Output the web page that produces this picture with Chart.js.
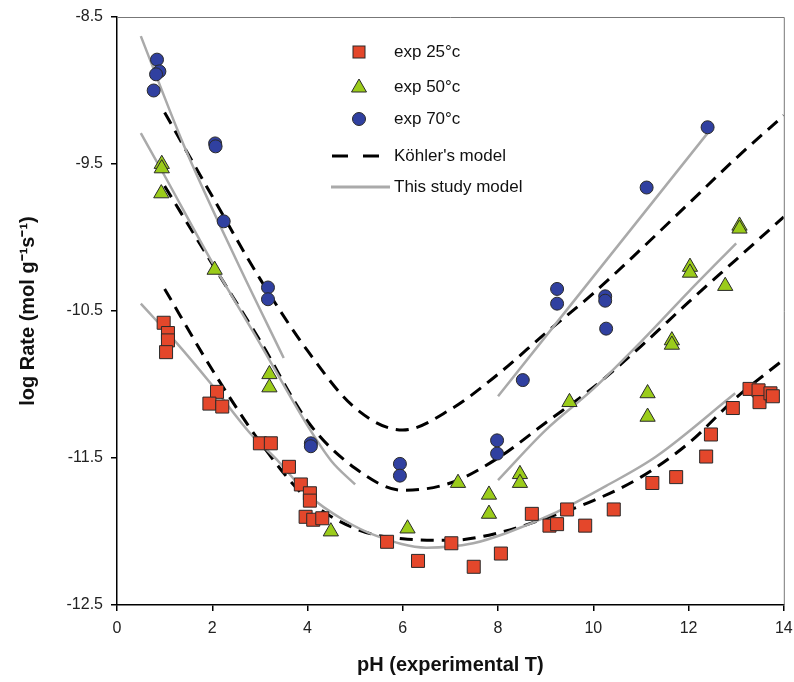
<!DOCTYPE html>
<html lang="en">
<head>
  <meta charset="UTF-8" />
  <title>log Rate vs pH</title>
  <script src="https://cdn.jsdelivr.net/npm/chart.js"></script>
  <style>
    body { margin: 0; background: #fff; }
    .wrap { width: 794px; height: 682px; }
  </style>
</head>
<body>
  <div class="wrap"><canvas id="rateChart" width="794" height="682"></canvas></div>

  <script>
    // tick labels
    const xTicks = [0, 2, 4, 6, 8, 10, 12, 14];
    const yTicks = [-12.5, -11.5, -10.5, -9.5, -8.5];

    // experimental points
    const ph25 = [0.98, 1.07, 1.07, 1.03, 2.10, 1.94, 2.21, 3.00, 3.23, 3.61, 3.86, 4.05, 4.05, 3.96, 4.12, 4.31,
                  5.67, 6.32, 7.02, 7.49, 8.06, 8.71, 9.08, 9.24, 9.45, 9.83, 10.43, 11.24, 11.74, 12.37, 12.47,
                  12.93, 13.28, 13.47, 13.49, 13.72, 13.77];
    const rate25 = [-10.58, -10.65, -10.70, -10.78, -11.05, -11.13, -11.15, -11.40, -11.40, -11.56, -11.68, -11.74, -11.79, -11.90, -11.92, -11.91,
                    -12.07, -12.20, -12.08, -12.24, -12.15, -11.88, -11.96, -11.95, -11.85, -11.96, -11.85, -11.67, -11.63, -11.49, -11.34,
                    -11.16, -11.03, -11.04, -11.12, -11.06, -11.08];

    const ph50 = [0.94, 0.94, 0.93, 2.05, 3.20, 3.20, 4.49, 6.10, 7.16, 7.81, 7.81, 8.46, 8.46, 9.50, 11.14, 11.14,
                  11.65, 11.65, 12.03, 12.03, 12.77, 13.07, 13.07];
    const rate50 = [-9.50, -9.53, -9.70, -10.22, -10.93, -11.02, -12.00, -11.98, -11.67, -11.75, -11.88, -11.61, -11.67, -11.12, -11.06, -11.22,
                    -10.70, -10.73, -10.20, -10.24, -10.33, -9.92, -9.94];

    const ph70 = [0.84, 0.89, 0.82, 0.77, 2.06, 2.07, 2.24, 3.17, 3.17, 4.07, 4.07, 5.94, 5.94, 7.98, 7.98, 8.52,
                  9.24, 9.24, 10.25, 10.25, 10.27, 11.12, 12.40];
    const rate70 = [-8.79, -8.87, -8.89, -9.00, -9.36, -9.38, -9.89, -10.34, -10.42, -11.40, -11.42, -11.54, -11.62, -11.38, -11.47, -10.97,
                    -10.35, -10.45, -10.40, -10.43, -10.62, -9.66, -9.25];

    // Köhler's model curves
    const kohlerPh = [1, 2, 3, 4, 5, 6, 7, 8, 9, 10, 11, 12, 13, 14];
    const kohler25 = [-10.35, -10.90, -11.39, -11.78, -11.98, -12.05, -12.06, -12.01, -11.91, -11.79, -11.63, -11.40, -11.09, -10.83];
    const kohler50 = [-9.65, -10.18, -10.70, -11.25, -11.57, -11.72, -11.67, -11.50, -11.26, -11.02, -10.74, -10.44, -10.15, -9.86];
    const kohler70 = [-9.15, -9.72, -10.28, -10.77, -11.16, -11.31, -11.17, -10.93, -10.65, -10.38, -10.08, -9.77, -9.46, -9.17];

    // this study model (split into acid and alkaline branches)
    const study25Ph = [0.5, 1.26, 1.96, 2.79, 3.35, 4.05, 4.75, 5.45, 6.5, 7.48, 8.18, 9.22, 10.27, 11.32, 12.98];
    const study25 = [-10.45, -10.72, -10.99, -11.33, -11.51, -11.76, -11.92, -12.03, -12.11, -12.08, -12.01, -11.87, -11.69, -11.49, -11.06];

    const study50aPh = [0.5, 1, 2, 3, 4, 4.5, 5];
    const study50a = [-9.29, -9.58, -10.17, -10.72, -11.28, -11.52, -11.68];
    const study50bPh = [8, 9, 10, 11, 12, 13];
    const study50b = [-11.65, -11.31, -11.03, -10.71, -10.37, -10.04];

    const study70aPh = [0.5, 1.4, 2.5, 3.5];
    const study70a = [-8.63, -9.37, -10.15, -10.82];
    const study70bPh = [8, 12.4];
    const study70b = [-11.08, -9.29];

    const pts = (xs, ys) => xs.map((x, i) => ({ x: x, y: ys[i] }));

    const RED = "#e4472b", GREEN = "#9bcc1a", BLUE = "#3040a0";

    const markerSet = (label, xs, ys, color, style, r) => ({
      type: "scatter", label: label, data: pts(xs, ys),
      backgroundColor: color, borderColor: "#2a2a2a", borderWidth: 1,
      pointStyle: style, pointRadius: r, pointHoverRadius: r, order: 0
    });
    const kohlerSet = (xs, ys) => ({
      type: "line", label: "Köhler's model", data: pts(xs, ys),
      borderColor: "#000", borderWidth: 3, borderDash: [13, 8], pointRadius: 0,
      fill: false, cubicInterpolationMode: "monotone", order: 2
    });
    const studySet = (xs, ys) => ({
      type: "line", label: "This study model", data: pts(xs, ys),
      borderColor: "#aaaaaa", borderWidth: 2.5, pointRadius: 0,
      fill: false, cubicInterpolationMode: "monotone", order: 1
    });

    // legend drawn inside the plot, like the original figure
    const legendBox = {
      id: "legendBox",
      afterDraw(chart) {
        const c = chart.ctx;
        c.save();
        c.font = "17px 'Liberation Sans', Arial, sans-serif";
        c.fillStyle = "#111";
        c.textBaseline = "middle";
        const tx = 394, mx = 359;
        const rows = [52, 87, 119, 156, 187];
        const labels = ["exp 25°c", "exp 50°c", "exp 70°c", "Köhler's model", "This study model"];
        labels.forEach((t, i) => c.fillText(t, tx, rows[i]));
        c.lineWidth = 1;
        c.strokeStyle = "#2a2a2a";
        // square
        c.fillStyle = RED;
        c.fillRect(mx - 6, rows[0] - 6, 12, 12);
        c.strokeRect(mx - 6, rows[0] - 6, 12, 12);
        // triangle
        c.fillStyle = GREEN;
        c.beginPath();
        c.moveTo(mx, rows[1] - 8); c.lineTo(mx + 7.5, rows[1] + 5); c.lineTo(mx - 7.5, rows[1] + 5); c.closePath();
        c.fill(); c.stroke();
        // circle
        c.fillStyle = BLUE;
        c.beginPath(); c.arc(mx, rows[2], 6.5, 0, Math.PI * 2); c.fill(); c.stroke();
        // dashed
        c.strokeStyle = "#000"; c.lineWidth = 3; c.setLineDash([16, 15]);
        c.beginPath(); c.moveTo(332, rows[3]); c.lineTo(383, rows[3]); c.stroke();
        c.setLineDash([]);
        c.strokeStyle = "#aaaaaa"; c.lineWidth = 3;
        c.beginPath(); c.moveTo(331, rows[4]); c.lineTo(390, rows[4]); c.stroke();
        c.restore();
      }
    };

    // thin top and right frame lines
    const frame = {
      id: "frame",
      afterDraw(chart) {
        const a = chart.chartArea, c = chart.ctx;
        c.save();
        c.strokeStyle = "#777"; c.lineWidth = 1;
        c.beginPath();
        c.moveTo(a.left, a.top + 0.5); c.lineTo(a.right + 0.5, a.top + 0.5); c.lineTo(a.right + 0.5, a.bottom);
        c.stroke();
        c.restore();
      }
    };

    const tickFont = { family: "'Liberation Sans', Arial, sans-serif", size: 16 };
    const titleFont = { family: "'Liberation Sans', Arial, sans-serif", size: 20, weight: "bold" };

    new Chart(document.getElementById("rateChart").getContext("2d"), {
      type: "scatter",
      data: {
        datasets: [
          markerSet("exp 25°c", ph25, rate25, RED, "rect", 9.2),
          markerSet("exp 50°c", ph50, rate50, GREEN, "triangle", 8.8),
          markerSet("exp 70°c", ph70, rate70, BLUE, "circle", 6.5),
          kohlerSet(kohlerPh, kohler25),
          kohlerSet(kohlerPh, kohler50),
          kohlerSet(kohlerPh, kohler70),
          studySet(study25Ph, study25),
          studySet(study50aPh, study50a),
          studySet(study50bPh, study50b),
          studySet(study70aPh, study70a),
          studySet(study70bPh, study70b)
        ]
      },
      options: {
        responsive: false,
        animation: false,
        layout: { padding: { top: 17, right: 10, left: 0, bottom: 0 } },
        plugins: { legend: { display: false }, tooltip: { enabled: false } },
        scales: {
          x: {
            type: "linear", min: 0, max: 14,
            afterFit: s => { s.height = 77; s.paddingLeft = 0; s.paddingRight = 0; },
            afterBuildTicks: s => { s.ticks = xTicks.map(v => ({ value: v })); },
            ticks: { font: tickFont, color: "#222", padding: 8, callback: v => String(v) },
            grid: { display: true, drawOnChartArea: false, drawTicks: true, tickLength: 6, color: "#000", lineWidth: 1.5 },
            border: { display: true, color: "#000", width: 1.5 },
            title: { display: true, text: "pH (experimental T)", font: titleFont, color: "#111", padding: { top: 0, bottom: 5 } }
          },
          y: {
            type: "linear", min: -12.5, max: -8.5,
            afterFit: s => { s.width = 117; s.paddingTop = 0; s.paddingBottom = 0; },
            afterBuildTicks: s => { s.ticks = yTicks.map(v => ({ value: v })); },
            ticks: { font: tickFont, color: "#222", padding: 8, callback: v => v.toFixed(1) },
            grid: { display: true, drawOnChartArea: false, drawTicks: true, tickLength: 6, color: "#000", lineWidth: 1.5 },
            border: { display: true, color: "#000", width: 1.5 },
            title: { display: true, text: "log Rate (mol g⁻¹s⁻¹)", font: titleFont, color: "#111", padding: { top: 16, bottom: 0 } }
          }
        }
      },
      plugins: [legendBox, frame]
    });
  </script>
</body>
</html>
